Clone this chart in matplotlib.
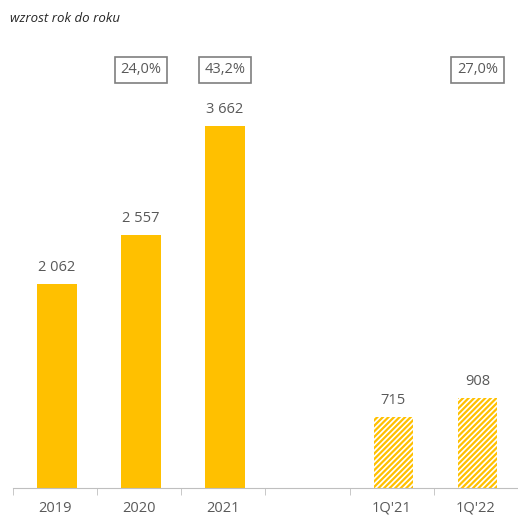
import matplotlib.pyplot as plt
import numpy as np

categories = ["2019", "2020", "2021", "", "1Q'21", "1Q'22"]
values = [2062, 2557, 3662, None, 715, 908]
hatched = [False, False, False, False, True, True]
growth = {1: "24,0%", 2: "43,2%", 5: "27,0%"}

yellow = "#FFC000"
grey = "#595959"
plt.rcParams["font.family"] = ["Open Sans", "DejaVu Sans"]
plt.rcParams["hatch.linewidth"] = 1.6

fig = plt.figure(figsize=(5.18, 5.15), dpi=100)
ax = fig.add_axes([13 / 518, 27 / 515, 505 / 518, 445 / 515])

x = np.arange(len(categories))
for i, v in enumerate(values):
    if v is None:
        continue
    if hatched[i]:
        ax.bar(x[i] + 0.02, v, width=0.47, color="white", edgecolor=yellow, hatch="//////", lw=0)
    else:
        ax.bar(x[i] + 0.02, v, width=0.47, color=yellow, lw=0)
    ax.text(x[i] + 0.02, v + 90, f"{v:,}".replace(",", " "), ha="center", va="bottom",
            fontsize=10.5, color=grey)

for i, s in growth.items():
    ax.text(x[i] + 0.02, 4227, s, ha="center", va="center", fontsize=10.5, color=grey,
            bbox=dict(boxstyle="square,pad=0.4", fc="white", ec="#7f7f7f", lw=1.2))

ax.set_xlim(-0.5, len(categories) - 0.5)
ax.set_ylim(0, 4500)
ax.set_yticks([])
for s in ["top", "right", "left"]:
    ax.spines[s].set_visible(False)
ax.spines["bottom"].set_color("#BFBFBF")
ax.set_xticks(x)
ax.set_xticklabels(categories, fontsize=10.5, color=grey)
ax.tick_params(axis="x", length=0, pad=9)
ax.set_xticks(np.arange(-0.5, len(categories), 1), minor=True)
ax.tick_params(axis="x", which="minor", length=5, color="#BFBFBF")

fig.text(10 / 518, 1 - 18 / 515, "wzrost rok do roku", fontsize=9.5, style="italic",
         color="#262626", va="center")

fig.savefig("out.png", dpi=100)
